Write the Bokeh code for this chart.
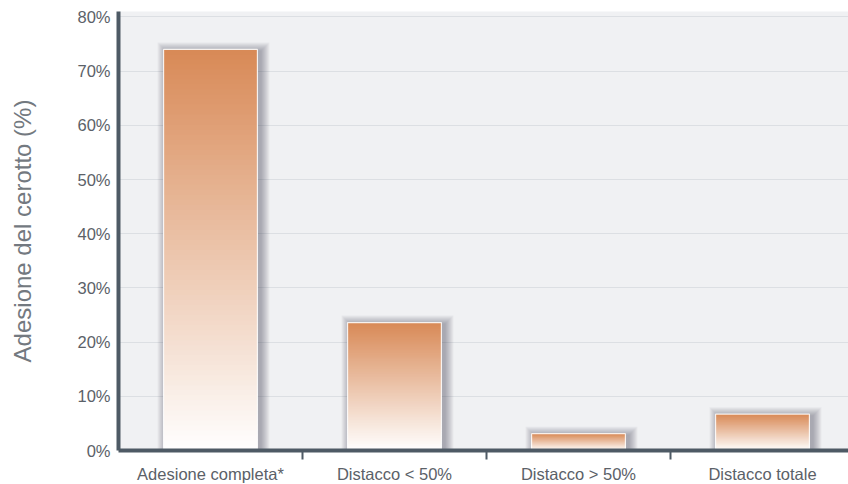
from bokeh.plotting import figure
from bokeh.models import FixedTicker, PrintfTickFormatter, Range1d
from bokeh.embed import file_html
from bokeh.resources import INLINE

# Data
categories = ["Adesione completa*", "Distacco < 50%", "Distacco > 50%", "Distacco totale"]
values = [74.0, 23.6, 3.1, 6.7]
y_ticks = [0, 10, 20, 30, 40, 50, 60, 70, 80]

# Layout (pixels)
FRAME_W, FRAME_H = 730, 439
LEFT, TOP, BOTTOM = 118, 11, 34
X_END = FRAME_W / 184.0          # each category slot is 184 px wide
Y_END = 81.0
PX_X = FRAME_W / X_END           # px per x unit
PX_Y = FRAME_H / Y_END           # px per percent

FONT = "Liberation Sans"
AXIS_COLOR = "#4e5a65"

p = figure(
    frame_width=FRAME_W, frame_height=FRAME_H,
    min_border_left=LEFT, min_border_right=0, min_border_top=TOP, min_border_bottom=BOTTOM,
    x_range=Range1d(0, X_END), y_range=Range1d(0, Y_END),
    output_backend="svg", toolbar_location=None,
    background_fill_color="#f0f1f3", border_fill_color="white",
)
p.outline_line_color = None
p.xgrid.grid_line_color = None
p.ygrid.grid_line_color = "#dcdfe3"
p.ygrid.grid_line_width = 1

centers = [i + 0.5 for i in range(len(categories))]
half_w = 0.255

# soft drop shadow, shifted right and down from each bar
dx, dy = 3 / PX_X, 2 / PX_Y
for k in range(9):
    ex, ey = (k + 1) / PX_X, (k + 1) / PX_Y
    p.quad(
        left=[c - half_w + dx - ex for c in centers],
        right=[c + half_w + dx + ex for c in centers],
        top=[v - dy + ey for v in values],
        bottom=[0 for _ in values],
        fill_color="#3c4046", fill_alpha=0.05, line_color=None,
    )

# vertical gradient: orange at the top of each bar fading to white at its base
top_rgb = (216, 137, 86)
bot_rgb = (255, 255, 255)
N = 80
overlap = 1.0 / PX_Y
for i in range(N):
    f0, f1 = i / N, (i + 1) / N
    fm = (f0 + f1) / 2
    rgb = tuple(int(round(b + (t - b) * fm)) for t, b in zip(top_rgb, bot_rgb))
    color = "#%02x%02x%02x" % rgb
    p.quad(
        left=[c - half_w for c in centers],
        right=[c + half_w for c in centers],
        bottom=[v * f0 for v in values],
        top=[min(v * f1 + overlap, v) for v in values],
        fill_color=color, line_color=None,
    )

# thin light border around the bars
p.quad(
    left=[c - half_w for c in centers],
    right=[c + half_w for c in centers],
    bottom=[0 for _ in values], top=values,
    fill_color=None, line_color="white", line_alpha=0.85, line_width=1.2,
)

# x axis: labels centred in each slot, tick marks between slots
xa = p.xaxis[0]
xa.ticker = FixedTicker(ticks=centers, minor_ticks=[1, 2, 3])
xa.major_label_overrides = {c: lab for c, lab in zip(centers, categories)}
xa.major_tick_line_color = None
xa.major_tick_in = 0
xa.major_tick_out = 0
xa.minor_tick_in = 0
xa.minor_tick_out = 9
xa.minor_tick_line_color = AXIS_COLOR
xa.minor_tick_line_width = 2
xa.axis_line_color = AXIS_COLOR
xa.axis_line_width = 4
xa.major_label_text_font = FONT
xa.major_label_text_font_size = "16.5px"
xa.major_label_text_color = "#5b6168"
xa.major_label_standoff = 5

# y axis
ya = p.yaxis[0]
ya.ticker = FixedTicker(ticks=y_ticks, minor_ticks=[])
ya.formatter = PrintfTickFormatter(format="%d%%")
ya.major_tick_line_color = None
ya.major_tick_in = 0
ya.major_tick_out = 0
ya.minor_tick_line_color = None
ya.axis_line_color = AXIS_COLOR
ya.axis_line_width = 4
ya.major_label_text_font = FONT
ya.major_label_text_font_size = "16.5px"
ya.major_label_text_color = "#5b6168"
ya.major_label_standoff = 8
ya.axis_label = "Adesione del cerotto (%)"
ya.axis_label_text_font = FONT
ya.axis_label_text_font_size = "24px"
ya.axis_label_text_font_style = "normal"
ya.axis_label_text_color = "#737980"
ya.axis_label_standoff = 38

open("out.html", "w").write(file_html(p, INLINE))
